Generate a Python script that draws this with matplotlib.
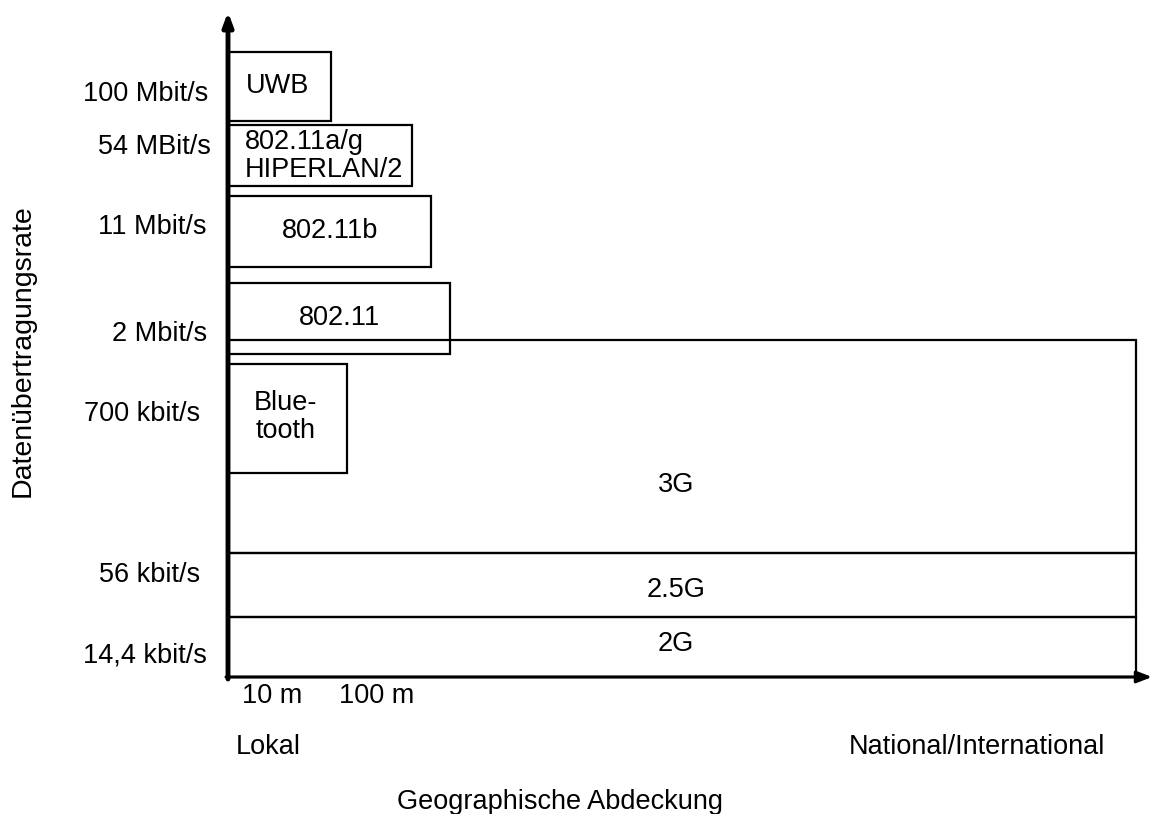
import matplotlib.pyplot as plt
from matplotlib.patches import Rectangle

plt.rcParams['font.family'] = ['Liberation Sans', 'DejaVu Sans']

# diagram units: horizontal = coverage, vertical = rate (top is fast)
box_names = ['UWB', '802.11a/g\nHIPERLAN/2', '802.11b', '802.11', '3G', 'Blue-\ntooth', '2.5G', '2G']
box_left = [228, 228, 228, 228, 228, 228, 228, 228]
box_right = [331, 412, 431, 450, 1136, 347, 1136, 1136]
box_top = [52, 125, 196, 283, 340, 364, 553, 617]
box_bottom = [121, 186, 267, 354, 553, 473, 617, 677]
label_x = [278, 245, 330, 340, 676, 286, 676, 676]
label_y = [86, 156, 231, 318, 485, 417, 590, 644]
label_ha = ['center', 'left', 'center', 'center', 'center', 'center', 'center', 'center']

rate_labels = ['100 Mbit/s', '54 MBit/s', '11 Mbit/s', '2 Mbit/s', '700 kbit/s', '56 kbit/s', '14,4 kbit/s']
rate_y = [94, 147, 227, 334, 414, 575, 655]
rate_x = [208, 211, 207, 207, 200, 200, 207]

dist_labels = ['10 m', '100 m']
dist_x = [272, 377]

fig = plt.figure(figsize=(11.52, 8.14), dpi=100)
ax = fig.add_axes([0, 0, 1, 1])
ax.set_xlim(0, 1152)
ax.set_ylim(814, 0)
ax.axis('off')

fs = 19.5

for name, l, r, t, b, lx, ly, ha in zip(box_names, box_left, box_right, box_top, box_bottom,
                                        label_x, label_y, label_ha):
    ax.add_patch(Rectangle((l, t), r - l, b - t, fill=False, edgecolor='black', lw=1.6))
    ax.text(lx, ly, name, ha=ha, va='center', fontsize=fs, linespacing=1.12)

for lab, x, y in zip(rate_labels, rate_x, rate_y):
    ax.text(x, y, lab, ha='right', va='center', fontsize=fs)

for lab, x in zip(dist_labels, dist_x):
    ax.text(x, 696, lab, ha='center', va='center', fontsize=fs)

ax.text(236, 747, 'Lokal', ha='left', va='center', fontsize=fs)
ax.text(1105, 747, 'National/International', ha='right', va='center', fontsize=fs)
ax.text(560, 802, 'Geographische Abdeckung', ha='center', va='center', fontsize=fs)
ax.text(23, 351, 'Datenübertragungsrate', ha='center', va='center', rotation=90, fontsize=20.5)

# axes with arrows
ax.annotate('', xy=(228, 12), xytext=(228, 679),
            arrowprops=dict(arrowstyle='-|>,head_length=0.8,head_width=0.3', lw=3.5, color='black',
                            shrinkA=0, shrinkB=0))
ax.annotate('', xy=(1152, 677), xytext=(226, 677),
            arrowprops=dict(arrowstyle='-|>,head_length=0.9,head_width=0.35', lw=2.2, color='black',
                            shrinkA=0, shrinkB=0))

fig.savefig('out.png', dpi=100, facecolor='white')
